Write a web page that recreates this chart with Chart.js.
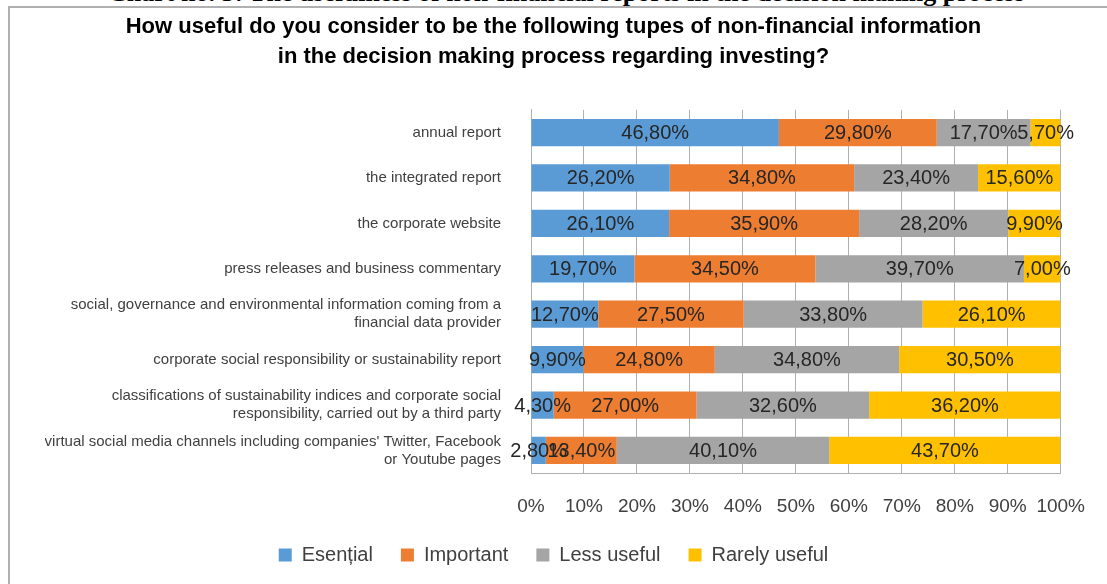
<!DOCTYPE html>
<html>
<head>
<meta charset="utf-8">
<script src="https://cdn.jsdelivr.net/npm/chart.js@4"></script>
<style>
    html, body { margin: 0; padding: 0; background: #fff; overflow: hidden; }
    #wrap { position: relative; width: 1107px; height: 584px; overflow: hidden; }
    #caption {
        position: absolute; left: 108px; top: -22px; white-space: nowrap;
        font-family: "Liberation Serif", serif; font-size: 26px; font-weight: bold; color: #000;
    }
    #frame {
        position: absolute; left: 8px; top: 6px; width: 1300px; height: 800px;
        border-left: 2px solid #b0b0b0; border-top: 2px solid #b0b0b0;
    }
    canvas { position: absolute; left: 0; top: 0; }
</style>
</head>
<body>
<div id="wrap">
    <div id="caption">Chart no. 3: The usefulness of non-financial reports in the decision making process</div>
    <div id="frame"></div>
    <canvas id="chart" width="1107" height="584"></canvas>
</div>
<script>
// Categories (top to bottom)
const categories = [
    'annual report',
    'the integrated report',
    'the corporate website',
    'press releases and business commentary',
    ['social, governance and environmental information coming from a', 'financial data provider'],
    'corporate social responsibility or sustainability report',
    ['classifications of sustainability indices and corporate social', 'responsibility, carried out by a third party'],
    ['virtual social media channels including companies\' Twitter, Facebook', 'or Youtube pages']
];

// Answer shares, % of respondents
const esential = [46.8, 26.2, 26.1, 19.7, 12.7, 9.9, 4.3, 2.8];
const important = [29.8, 34.8, 35.9, 34.5, 27.5, 24.8, 27.0, 13.4];
const lessUseful = [17.7, 23.4, 28.2, 39.7, 33.8, 34.8, 32.6, 40.1];
const rarelyUseful = [5.7, 15.6, 9.9, 7.0, 26.1, 30.5, 36.2, 43.7];

const seriesNames = ['Esențial', 'Important', 'Less useful', 'Rarely useful'];
const seriesColors = ['#5b9bd5', '#ed7d31', '#a5a5a5', '#ffc000'];
const xTicks = [0, 10, 20, 30, 40, 50, 60, 70, 80, 90, 100];

const FONT = '"Liberation Sans", Arial, sans-serif';
const allSeries = [esential, important, lessUseful, rarelyUseful];

// 100% stacked, like the original spreadsheet chart
const totals = categories.map((c, i) => allSeries.reduce((s, arr) => s + arr[i], 0));

const datasets = allSeries.map((arr, k) => ({
    label: seriesNames[k],
    data: arr.map((v, i) => v / totals[i] * 100),
    rawValues: arr,
    backgroundColor: seriesColors[k],
    borderWidth: 0,
    categoryPercentage: 1.0,
    barPercentage: 0.6
}));

// Draw value labels in the middle of each segment
const valueLabels = {
    id: 'valueLabels',
    afterDatasetsDraw(chart) {
        const ctx = chart.ctx;
        ctx.save();
        ctx.font = '20px ' + FONT;
        ctx.fillStyle = '#262626';
        ctx.textAlign = 'center';
        ctx.textBaseline = 'middle';
        chart.data.datasets.forEach((ds, di) => {
            const meta = chart.getDatasetMeta(di);
            meta.data.forEach((bar, i) => {
                const p = bar.getProps(['x', 'y', 'base'], true);
                const txt = ds.rawValues[i].toFixed(2).replace('.', ',') + '%';
                ctx.fillText(txt, (p.x + p.base) / 2, p.y + 1);
            });
        });
        ctx.restore();
    }
};

new Chart(document.getElementById('chart').getContext('2d'), {
    type: 'bar',
    data: { labels: categories, datasets },
    plugins: [valueLabels],
    options: {
        indexAxis: 'y',
        responsive: false,
        animation: false,
        layout: { padding: { left: 45, right: 45, top: 12, bottom: 9 } },
        plugins: {
            title: {
                display: true,
                text: ['How useful do you consider to be the following tupes of non-financial information',
                       'in the decision making process regarding investing?'],
                color: '#000',
                font: { family: FONT, size: 22, weight: 'bold', lineHeight: 1.36 },
                padding: { top: 0, bottom: 38 }
            },
            legend: {
                position: 'bottom',
                labels: {
                    color: '#404040',
                    font: { family: FONT, size: 20 },
                    boxWidth: 13,
                    boxHeight: 13,
                    padding: 28
                }
            },
            tooltip: { enabled: false }
        },
        scales: {
            x: {
                stacked: true,
                min: 0,
                max: 100,
                afterBuildTicks: axis => { axis.ticks = xTicks.map(v => ({ value: v })); },
                // tick labels may run into the legend's empty top padding
                afterFit: axis => { axis.height -= 23; },
                ticks: {
                    color: '#404040',
                    font: { family: FONT, size: 19 },
                    padding: 22,
                    maxRotation: 0,
                    minRotation: 0,
                    autoSkip: false,
                    callback: v => v + '%'
                },
                grid: { color: '#b0b0b0', drawTicks: false },
                border: { display: true, color: '#b0b0b0' }
            },
            y: {
                stacked: true,
                afterFit: axis => { axis.width = 486; },
                ticks: {
                    color: '#404040',
                    font: { family: FONT, size: 15, lineHeight: 1.2 },
                    padding: 22
                },
                grid: { display: false },
                border: { display: true, color: '#b0b0b0' }
            }
        }
    }
});
</script>
</body>
</html>
